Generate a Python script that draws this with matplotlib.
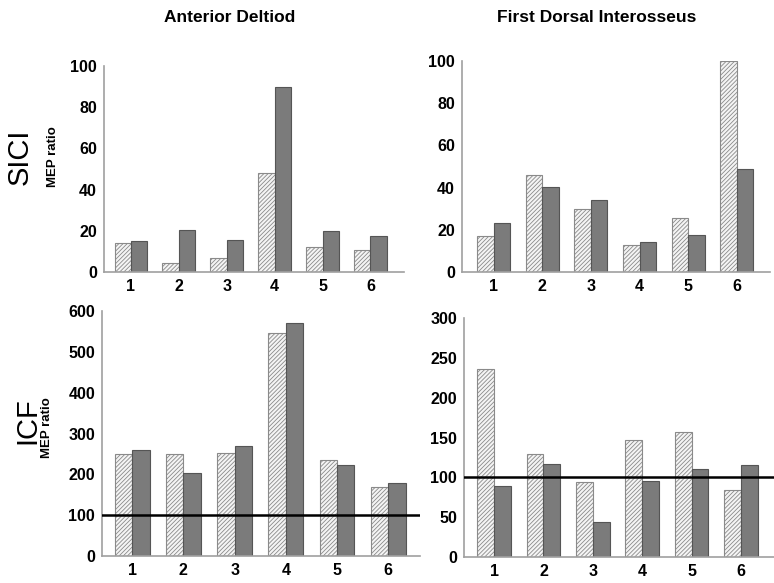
import numpy as np
import matplotlib.pyplot as plt

plt.rcParams['font.family'] = ['Liberation Sans', 'DejaVu Sans']

subjects = [1, 2, 3, 4, 5, 6]

# SICI, MEP ratio
ad_sici_a = [14, 4.5, 7, 48, 12, 10.5]
ad_sici_b = [15, 20.5, 15.5, 90, 20, 17.5]
fdi_sici_a = [17, 46, 30, 13, 25.5, 100]
fdi_sici_b = [23, 40.5, 34, 14, 17.5, 49]

# ICF, MEP ratio
ad_icf_a = [249, 251, 253, 547, 235, 170]
ad_icf_b = [259, 203, 269, 570, 223, 179]
fdi_icf_a = [236, 129, 94, 147, 157, 84]
fdi_icf_b = [89, 117, 44, 96, 110, 116]

fig = plt.figure(figsize=(7.74, 5.83), dpi=100)

W, H = 774, 583
def add_ax(l, r, t, b):
    return fig.add_axes([l / W, 1 - b / H, (r - l) / W, (b - t) / H])

ax1 = add_ax(104, 404, 66, 272)
ax2 = add_ax(462, 770, 61, 272)
ax3 = add_ax(102, 420, 311, 556)
ax4 = add_ax(464, 774, 318, 557)

panels = [
    (ax1, ad_sici_a, ad_sici_b, (0, 100), [0, 20, 40, 60, 80, 100], (0.44, 6.7), False),
    (ax2, fdi_sici_a, fdi_sici_b, (0, 100), [0, 20, 40, 60, 80, 100], (0.35, 6.68), False),
    (ax3, ad_icf_a, ad_icf_b, (0, 600), [0, 100, 200, 300, 400, 500, 600], (0.41, 6.62), True),
    (ax4, fdi_icf_a, fdi_icf_b, (0, 300), [0, 50, 100, 150, 200, 250, 300], (0.39, 6.67), True),
]

x = np.array(subjects)
w = 0.34
plt.rcParams['hatch.color'] = '#9a9a9a'
plt.rcParams['hatch.linewidth'] = 0.6
for ax, a, b, ylim, yt, xl, ref in panels:
    ax.bar(x - w / 2, a, w, color='#f4f4f4', edgecolor='#8a8a8a', hatch='////////', linewidth=0.8)
    ax.bar(x + w / 2, b, w, color='#7b7b7b', edgecolor='#555555', linewidth=0.8)
    if ref:
        ax.axhline(100, color='black', lw=1.8, zorder=5)
    ax.set_ylim(*ylim)
    ax.set_xlim(*xl)
    ax.set_yticks(yt)
    ax.set_xticks(x)
    ax.tick_params(length=0, labelsize=11.5, pad=5)
    for lab in ax.get_xticklabels() + ax.get_yticklabels():
        lab.set_fontweight('bold')
    for s in ['top', 'right']:
        ax.spines[s].set_visible(False)
    for s in ['left', 'bottom']:
        ax.spines[s].set_color('#a0a0a0')
        ax.spines[s].set_linewidth(1.2)

fig.text(230 / W, 1 - 18 / H, 'Anterior Deltiod', ha='center', va='center', fontsize=12.5, fontweight='bold')
fig.text(597 / W, 1 - 18 / H, 'First Dorsal Interosseus', ha='center', va='center', fontsize=12.5, fontweight='bold')

fig.text(20 / W, 1 - 157 / H, 'SICI', rotation=90, ha='center', va='center', fontsize=21)
fig.text(53 / W, 1 - 157 / H, 'MEP ratio', rotation=90, ha='center', va='center', fontsize=9.5, fontweight='bold')
fig.text(27 / W, 1 - 421 / H, 'ICF', rotation=90, ha='center', va='center', fontsize=21)
fig.text(47 / W, 1 - 428 / H, 'MEP ratio', rotation=90, ha='center', va='center', fontsize=9.5, fontweight='bold')

fig.savefig('out.png', dpi=100)
